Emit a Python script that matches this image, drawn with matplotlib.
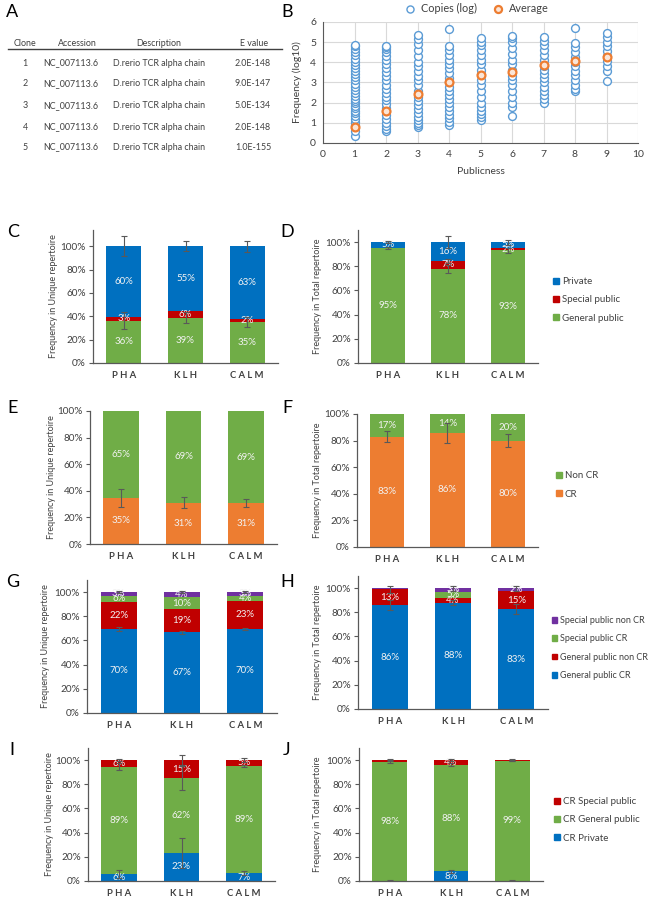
import matplotlib

matplotlib.use("Agg")
import matplotlib.pyplot as plt
import numpy as np
from matplotlib.patches import Patch
from matplotlib.lines import Line2D

plt.rcParams["font.family"] = ["Lato", "DejaVu Sans"]

W, H = 651, 900

BLUE = "#0070C0"
RED = "#C00000"
GREEN = "#70AD47"
ORANGE = "#ED7D31"
PURPLE = "#7030A0"
TXT = "#404040"

# panel A table
table_head = ["Clone", "Accession", "Description", "E value"]
clone_ids = ["1", "2", "3", "4", "5"]
accessions = ["NC_007113.6"] * 5
descriptions = ["D.rerio TCR alpha chain"] * 5
evalues = ["2.0E-148", "9.0E-147", "5.0E-134", "2.0E-148", "1.0E-155"]

# panel B: copies (log10) per publicness level
pub_levels = [1, 2, 3, 4, 5, 6, 7, 8, 9]
copies_1 = [0.33, 0.6, 0.9, 1.05, 1.2, 1.35, 1.5, 1.6, 1.75, 1.85, 2.0, 2.1, 2.2, 2.35, 2.5, 2.65,
            2.8, 2.95, 3.1, 3.25, 3.4, 3.55, 3.7, 3.85, 4.0, 4.15, 4.35, 4.5, 4.65, 4.8, 4.88]
copies_2 = [0.58, 0.7, 0.85, 1.0, 1.2, 1.4, 1.6, 1.75, 1.95, 2.15, 2.3, 2.5, 2.7, 2.9, 3.1, 3.3,
            3.5, 3.7, 3.9, 4.1, 4.3, 4.5, 4.65, 4.75, 4.83]
copies_3 = [0.78, 0.9, 1.0, 1.15, 1.3, 1.5, 1.7, 1.9, 2.1, 2.3, 2.6, 2.9, 3.1, 3.3, 3.55, 3.8,
            4.0, 4.3, 4.6, 4.9, 5.15, 5.37]
copies_4 = [0.9, 1.05, 1.25, 1.4, 1.6, 1.8, 2.0, 2.2, 2.4, 2.6, 2.8, 3.0, 3.2, 3.45, 3.7, 3.9,
            4.1, 4.35, 4.6, 4.8, 5.67]
copies_5 = [1.16, 1.3, 1.45, 1.6, 1.8, 2.0, 2.3, 2.6, 2.9, 3.1, 3.4, 3.6, 3.9, 4.1, 4.35, 4.6,
            4.85, 5.0, 5.2]
copies_6 = [1.35, 1.8, 2.0, 2.3, 2.6, 2.9, 3.1, 3.3, 3.6, 3.9, 4.1, 4.4, 4.7, 5.0, 5.2, 5.32]
copies_7 = [1.98, 2.2, 2.4, 2.6, 2.8, 3.0, 3.2, 3.4, 3.6, 3.8, 4.1, 4.35, 4.6, 4.85, 5.05, 5.26]
copies_8 = [2.56, 2.7, 2.9, 3.1, 3.35, 3.55, 3.8, 4.0, 4.25, 4.5, 4.75, 4.98, 5.7]
copies_9 = [3.06, 3.55, 3.8, 4.05, 4.3, 4.55, 4.8, 5.0, 5.25, 5.45]
copies_avg = [0.78, 1.6, 2.43, 3.0, 3.39, 3.52, 3.85, 4.05, 4.28]

groups = ["PHA", "KLH", "CALM"]

# C: unique repertoire by publicness
c_general = [36.4, 39.0, 35.1]
c_special = [3.2, 5.8, 2.3]
c_private = [60.4, 55.2, 62.6]
c_err_general = [7.5, 5.0, 4.5]
c_err_special = [0, 0, 0]
c_err_private = [8.5, 4.3, 4.5]

# D: total repertoire by publicness
d_general = [95.0, 77.8, 93.2]
d_special = [0.3, 6.6, 2.0]
d_private = [4.7, 15.6, 4.8]
d_err_general = [1.0, 3.0, 2.0]
d_err_special = [0, 2.0, 0]
d_err_private = [1.0, 5.0, 2.0]

# E / F: CR vs non CR
e_cr = [34.6, 31.2, 30.8]
e_noncr = [65.4, 68.8, 69.2]
e_err_cr = [7.0, 4.5, 3.0]
f_cr = [83.0, 85.8, 80.0]
f_noncr = [17.0, 14.2, 20.0]
f_err_cr = [4.0, 7.5, 5.0]

# G / H: publicness x CR
g_gen_cr = [69.7, 66.6, 69.6]
g_gen_noncr = [21.8, 19.2, 23.1]
g_spec_cr = [5.6, 10.2, 4.3]
g_spec_noncr = [2.9, 4.0, 3.0]
g_err_gen_cr = [1.5, 1.5, 1.0]
g_err_spec_noncr = [1.0, 1.0, 1.0]
h_gen_cr = [85.9, 88.0, 82.6]
h_gen_noncr = [13.2, 4.1, 14.6]
h_spec_cr = [0.3, 5.0, 0.3]
h_spec_noncr = [0.6, 2.9, 2.5]
h_err_gen_cr = [4.0, 2.0, 4.0]
h_err_gen_noncr = [3.0, 0, 0]
h_err_spec_noncr = [0, 2.0, 2.0]

# I / J: CR clones by publicness
i_private = [5.8, 23.2, 6.6]
i_general = [88.6, 61.9, 88.6]
i_special = [5.6, 14.9, 4.8]
i_err_private = [3.5, 12.5, 1.5]
i_err_general = [3.0, 10.0, 1.0]
i_err_special = [1.0, 4.0, 1.5]
j_private = [0.4, 7.9, 0.3]
j_general = [98.3, 88.3, 99.2]
j_special = [1.3, 3.8, 0.5]
j_err_private = [0.5, 1.5, 0.5]
j_err_general = [1.0, 1.0, 0.5]
j_err_special = [0.5, 0.5, 0.5]


def px_axes(fig, left, top, right, bottom):
    return fig.add_axes([left / W, 1 - bottom / H, (right - left) / W, (bottom - top) / H])


def fig_xy(x, y):
    return x / W, 1 - y / H


def stacked(fig, box, ymax, series, ylabel, ylabel_x, legend_xy=None, legend_fs=7):
    ax = px_axes(fig, *box)
    x = np.arange(len(groups))
    base = np.zeros(len(groups))
    tops = []
    for name, vals, color, err in series:
        vals = np.asarray(vals, dtype=float)
        ax.bar(x, vals, 0.57, bottom=base, color=color, label=name, zorder=2)
        for xi, b, v in zip(x, base, vals):
            if v >= 1.5:
                ax.text(xi, b + v / 2, f"{round(v)}%", ha="center", va="center",
                        color="#F2F2F2", fontsize=7, zorder=4)
        base = base + vals
        tops.append((base.copy(), err))
    for top, err in tops:
        err = np.asarray(err, dtype=float)
        m = err > 0
        if m.any():
            ax.errorbar(x[m], top[m], yerr=err[m], fmt="none", ecolor="#595959",
                        elinewidth=0.8, capsize=2.5, capthick=0.8, zorder=5)
    ax.set_xlim(-0.5, 2.5)
    ax.set_ylim(0, ymax)
    ax.set_yticks(np.arange(0, 101, 20))
    ax.set_yticklabels([f"{v}%" for v in range(0, 101, 20)])
    ax.set_xticks(x)
    ax.set_xticklabels([" ".join(g) for g in groups], fontsize=6.8, fontweight="bold", color=TXT)
    ax.tick_params(axis="x", length=0, pad=6)
    ax.tick_params(axis="y", length=3, width=0.8, labelsize=7.2, colors=TXT, pad=2, color="#595959")
    for s in ("top", "right"):
        ax.spines[s].set_visible(False)
    for s in ("left", "bottom"):
        ax.spines[s].set_color("#595959")
        ax.spines[s].set_linewidth(0.9)
    cy = (box[1] + box[3]) / 2
    fig.text(*fig_xy(ylabel_x, cy), ylabel, rotation=90, ha="center", va="center",
             fontsize=6.5, color=TXT)
    if legend_xy is not None:
        handles = [Patch(facecolor=c, edgecolor=c) for _, _, c, _ in series][::-1]
        names = [n for n, _, _, _ in series][::-1]
        ax.legend(handles, names, loc="center left", bbox_to_anchor=fig_xy(*legend_xy),
                  bbox_transform=fig.transFigure, frameon=False, fontsize=legend_fs,
                  handlelength=0.6, handleheight=0.6, handletextpad=0.3,
                  labelspacing=7 * 0.95 / legend_fs, labelcolor=TXT, borderpad=0,
                  borderaxespad=0)
    return ax


fig = plt.figure(figsize=(W / 100, H / 100), dpi=100)

# panel letters
for letter, (lx, ly) in {"A": (12, 12), "B": (287, 12), "C": (13, 232), "D": (287, 232),
                         "E": (13, 408), "F": (287, 408), "G": (13, 582), "H": (287, 582),
                         "I": (12, 750), "J": (287, 750)}.items():
    fig.text(*fig_xy(lx, ly), letter, ha="center", va="center", fontsize=13, color="black")

# panel A table
TFS = 6.4
head_x = [25, 77, 159, 254]
for hx, h in zip(head_x, table_head):
    fig.text(*fig_xy(hx, 43), h, ha="center", va="center", fontsize=TFS, color=TXT)
fig.add_artist(Line2D([8 / W, 282 / W], [1 - 49 / H, 1 - 49 / H], color="#404040", lw=1.0))
row_y = [63, 84, 106, 127, 147]
for ry, cid, acc, desc, ev in zip(row_y, clone_ids, accessions, descriptions, evalues):
    fig.text(*fig_xy(25, ry), cid, ha="center", va="center", fontsize=TFS, color=TXT)
    fig.text(*fig_xy(71, ry), acc, ha="center", va="center", fontsize=TFS, color=TXT)
    fig.text(*fig_xy(159, ry), desc, ha="center", va="center", fontsize=TFS, color=TXT)
    fig.text(*fig_xy(253, ry), ev, ha="center", va="center", fontsize=TFS, color=TXT)

# panel B scatter
axb = px_axes(fig, 323, 22, 638, 143)
all_copies = [copies_1, copies_2, copies_3, copies_4, copies_5, copies_6, copies_7, copies_8, copies_9]
for lvl, vals in zip(pub_levels, all_copies):
    axb.scatter([lvl] * len(vals), vals, s=32, facecolors="white", edgecolors="#5B9BD5",
                linewidths=1.0, zorder=3, label="Copies (log)" if lvl == 1 else None)
axb.scatter(pub_levels, copies_avg, s=32, facecolors="#FBE5D6", edgecolors=ORANGE,
            linewidths=1.6, zorder=4, label="Average")
axb.set_xlim(0, 10)
axb.set_ylim(0, 6)
axb.set_xticks(range(0, 11))
axb.set_yticks(range(0, 7))
axb.grid(True, color="#D9D9D9", lw=0.8, zorder=0)
axb.set_axisbelow(True)
for s in ("top", "right"):
    axb.spines[s].set_visible(False)
for s in ("left", "bottom"):
    axb.spines[s].set_color("#595959")
axb.tick_params(length=0, labelsize=7.5, colors=TXT, pad=5)
axb.set_xlabel("Publicness", fontsize=7.5, color=TXT, labelpad=6)
fig.text(*fig_xy(297, 82), "Frequency (log10)", rotation=90, ha="center", va="center",
         fontsize=7.5, color=TXT)
axb.legend(loc="center", bbox_to_anchor=fig_xy(474, 8), bbox_transform=fig.transFigure,
           ncol=2, frameon=False, fontsize=7.8, handletextpad=0.0, columnspacing=1.0,
           labelcolor=TXT, borderpad=0, markerscale=0.9)

UNIQ = "Frequency in Unique repertoire"
TOTAL = "Frequency in Total repertoire"

stacked(fig, (93, 230, 278, 363), 114,
        [("General public", c_general, GREEN, c_err_general),
         ("Special public", c_special, RED, c_err_special),
         ("Private", c_private, BLUE, c_err_private)], UNIQ, 53)
stacked(fig, (358, 230, 538, 363), 110,
        [("General public", d_general, GREEN, d_err_general),
         ("Special public", d_special, RED, d_err_special),
         ("Private", d_private, BLUE, d_err_private)], TOTAL, 318, legend_xy=(553, 300))

stacked(fig, (90, 411, 277, 544), 100,
        [("CR", e_cr, ORANGE, e_err_cr),
         ("Non CR", e_noncr, GREEN, [0, 0, 0])], UNIQ, 52)
stacked(fig, (357, 414, 538, 547), 100,
        [("CR", f_cr, ORANGE, f_err_cr),
         ("Non CR", f_noncr, GREEN, [0, 0, 0])], TOTAL, 318, legend_xy=(556, 485))

stacked(fig, (87, 580, 277, 713), 110,
        [("General public CR", g_gen_cr, BLUE, g_err_gen_cr),
         ("General public non CR", g_gen_noncr, RED, [0, 0, 0]),
         ("Special public CR", g_spec_cr, GREEN, [0, 0, 0]),
         ("Special public non CR", g_spec_noncr, PURPLE, g_err_spec_noncr)], UNIQ, 45)
stacked(fig, (358, 576, 548, 709), 110,
        [("General public CR", h_gen_cr, BLUE, h_err_gen_cr),
         ("General public non CR", h_gen_noncr, RED, h_err_gen_noncr),
         ("Special public CR", h_spec_cr, GREEN, [0, 0, 0]),
         ("Special public non CR", h_spec_noncr, PURPLE, h_err_spec_noncr)], TOTAL, 318,
        legend_xy=(552, 648), legend_fs=6.5)

stacked(fig, (88, 748, 275, 881), 110,
        [("CR Private", i_private, BLUE, i_err_private),
         ("CR General public", i_general, GREEN, i_err_general),
         ("CR Special public", i_special, RED, i_err_special)], UNIQ, 50)
stacked(fig, (359, 748, 543, 881), 110,
        [("CR Private", j_private, BLUE, j_err_private),
         ("CR General public", j_general, GREEN, j_err_general),
         ("CR Special public", j_special, RED, j_err_special)], TOTAL, 318,
        legend_xy=(554, 820))

fig.savefig("out.png", dpi=100)
plt.close(fig)
